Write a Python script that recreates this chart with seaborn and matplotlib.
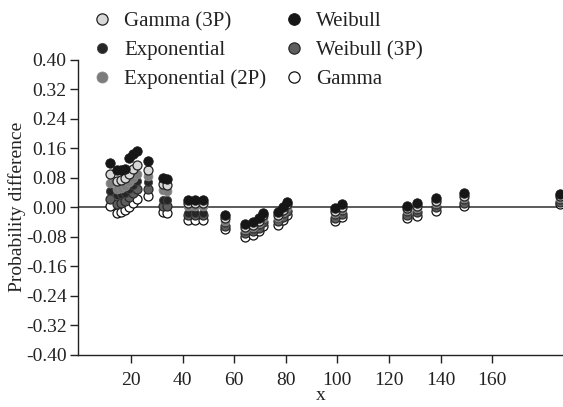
import numpy as np
import pandas as pd
import matplotlib
matplotlib.use("Agg")
import matplotlib.pyplot as plt
import seaborn as sns
from matplotlib.lines import Line2D

# ---- data ----
x_vals = [11.9, 14.6, 16.1, 17.7, 19.2, 20.8, 22.3, 26.6, 32.5, 34.0,
          42.2, 44.8, 47.8, 56.4, 64.2, 67.1, 69.7, 71.0, 77.0, 79.0,
          80.5, 99.0, 101.7, 126.9, 131.0, 138.2, 149.0, 186.5]

weibull = [0.120, 0.100, 0.102, 0.105, 0.135, 0.145, 0.152, 0.125, 0.080, 0.078,
           0.020, 0.020, 0.020, -0.022, -0.045, -0.040, -0.030, -0.015, -0.012, 0.000,
           0.015, -0.003, 0.008, 0.005, 0.012, 0.025, 0.038, 0.035]
gamma_3p = [0.090, 0.072, 0.075, 0.080, 0.090, 0.105, 0.115, 0.100, 0.062, 0.060,
            0.012, 0.012, 0.012, -0.030, -0.052, -0.047, -0.037, -0.022, -0.020, -0.007,
            0.008, -0.010, 0.001, -0.002, 0.005, 0.018, 0.031, 0.030]
exponential_2p = [0.065, 0.050, 0.052, 0.058, 0.070, 0.080, 0.090, 0.085, 0.047, 0.045,
                  0.005, 0.005, 0.005, -0.036, -0.058, -0.053, -0.043, -0.028, -0.026, -0.013,
                  0.002, -0.016, -0.005, -0.008, -0.001, 0.012, 0.025, 0.025]
exponential = [0.045, 0.033, 0.035, 0.040, 0.050, 0.060, 0.072, 0.068, 0.020, 0.020,
               -0.015, -0.015, -0.015, -0.042, -0.063, -0.058, -0.048, -0.033, -0.030, -0.018,
               -0.003, -0.021, -0.010, -0.013, -0.006, 0.007, 0.020, 0.020]
weibull_3p = [0.022, 0.010, 0.012, 0.017, 0.027, 0.040, 0.050, 0.050, 0.005, 0.003,
              -0.022, -0.022, -0.022, -0.050, -0.070, -0.065, -0.055, -0.040, -0.037, -0.025,
              -0.010, -0.028, -0.017, -0.020, -0.013, 0.000, 0.013, 0.015]
gamma = [0.003, -0.015, -0.013, -0.008, 0.000, 0.012, 0.022, 0.030, -0.012, -0.014,
         -0.033, -0.033, -0.033, -0.060, -0.080, -0.075, -0.065, -0.050, -0.047, -0.035,
         -0.020, -0.038, -0.027, -0.030, -0.023, -0.010, 0.003, 0.010]

series_names = ["Weibull", "Gamma (3P)", "Exponential (2P)", "Exponential", "Weibull (3P)", "Gamma"]
series_vals = [weibull, gamma_3p, exponential_2p, exponential, weibull_3p, gamma]
x_ticks = [20, 40, 60, 80, 100, 120, 140, 160]
y_ticks = [-0.40, -0.32, -0.24, -0.16, -0.08, 0.00, 0.08, 0.16, 0.24, 0.32, 0.40]

styles = {
    "Weibull":          dict(fc="#161616", ec="#161616", s=46, lw=0.6),
    "Gamma (3P)":       dict(fc="#d8d8d8", ec="#222222", s=42, lw=0.9),
    "Exponential (2P)": dict(fc="#7c7c7c", ec="#8a8a8a", s=40, lw=0.6),
    "Exponential":      dict(fc="#262626", ec="#444444", s=34, lw=0.6),
    "Weibull (3P)":     dict(fc="#5e5e5e", ec="#2a2a2a", s=42, lw=0.9),
    "Gamma":            dict(fc="#ffffff", ec="#111111", s=42, lw=0.9),
}

rows = []
for name, vals in zip(series_names, series_vals):
    for xv, yv in zip(x_vals, vals):
        rows.append({"x": xv, "y": yv, "series": name})
df = pd.DataFrame(rows)

sns.set_theme(style="ticks")
plt.rcParams["font.family"] = ["Liberation Serif", "DejaVu Serif"]

fig = plt.figure(figsize=(5.63, 4.07), dpi=100)
ax = fig.add_axes([0.138, 0.128, 0.862, 0.725])

ax.axhline(0, color="#5a5a5a", lw=1.4, zorder=1)

draw_order = ["Gamma", "Weibull (3P)", "Exponential", "Exponential (2P)", "Gamma (3P)", "Weibull"]
for i, name in enumerate(draw_order):
    st = styles[name]
    sub = df[df["series"] == name]
    sns.scatterplot(data=sub, x="x", y="y", ax=ax, color=st["fc"], edgecolor=st["ec"],
                    s=st["s"], linewidth=st["lw"], legend=False, zorder=3 + i)

ax.set_xlim(-0.7, 187.5)
ax.set_ylim(-0.40, 0.40)
ax.set_xticks(x_ticks)
ax.set_yticks(y_ticks)
ax.set_yticklabels([f"{v:.2f}" for v in y_ticks])
ax.tick_params(axis="both", labelsize=14, length=6, width=1, color="#222222",
               labelcolor="#222222", direction="out", pad=2)
ax.tick_params(axis="x", pad=6)
for sp in ["top", "right"]:
    ax.spines[sp].set_visible(False)
for sp in ["left", "bottom"]:
    ax.spines[sp].set_color("#222222")
    ax.spines[sp].set_linewidth(1.0)

ax.set_xlabel("x", fontsize=14, color="#222222", labelpad=-1)
ax.set_ylabel("Probability difference", fontsize=14, color="#222222", labelpad=0)

legend_order = ["Gamma (3P)", "Exponential", "Exponential (2P)", "Weibull", "Weibull (3P)", "Gamma"]
handles = []
for name in legend_order:
    st = styles[name]
    handles.append(Line2D([0], [0], marker="o", linestyle="none",
                          markerfacecolor=st["fc"], markeredgecolor=st["ec"],
                          markersize=np.sqrt(st["s"]) * 1.25, markeredgewidth=st["lw"]))
leg = fig.legend(handles, legend_order, loc="upper left", bbox_to_anchor=(0.152, 0.992),
                 ncol=2, frameon=False, fontsize=15, handletextpad=0.65,
                 columnspacing=0.95, labelspacing=0.45, handlelength=0.8,
                 borderaxespad=0.0)
for t in leg.get_texts():
    t.set_color("#222222")

fig.savefig("out.png", dpi=100)
